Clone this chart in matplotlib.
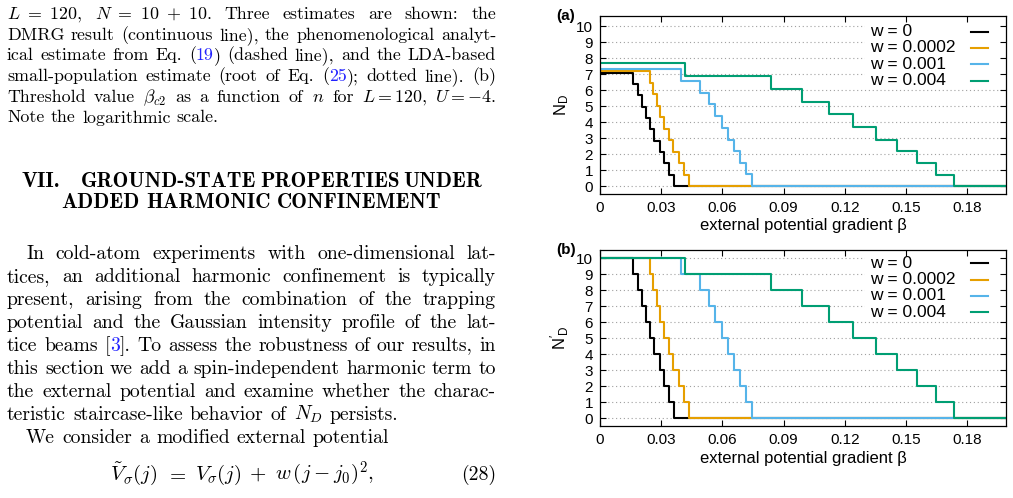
import matplotlib
matplotlib.use('Agg')
import matplotlib.pyplot as plt
from matplotlib.patches import Rectangle

# ---- chart data ----
beta_end = 0.2
w_labels = ['w = 0', 'w = 0.0002', 'w = 0.001', 'w = 0.004']
colors = ['black', '#e69f00', '#56b4e9', '#009e73']

# beta values where each staircase drops one step
drops_w0 = [0.0164, 0.0186, 0.0205, 0.0227, 0.0247, 0.0267, 0.0292, 0.0314, 0.0339, 0.0361]
drops_w1 = [0.0246, 0.0262, 0.0279, 0.0295, 0.0312, 0.0336, 0.0358, 0.0385, 0.0412, 0.0437]
drops_w2 = [0.0398, 0.0492, 0.0532, 0.0564, 0.0600, 0.0629, 0.0659, 0.0687, 0.0715, 0.0747]
drops_w3 = [0.0418, 0.0839, 0.0992, 0.1122, 0.1238, 0.1352, 0.1455, 0.1555, 0.1646, 0.1733]

# panel (a): N_D levels
nd_w0 = [7.10, 6.39, 5.68, 4.97, 4.26, 3.55, 2.84, 2.13, 1.42, 0.71, 0]
nd_w1 = [7.20, 6.48, 5.76, 5.04, 4.32, 3.60, 2.88, 2.16, 1.44, 0.72, 0]
nd_w2 = [7.35, 6.60, 5.85, 5.12, 4.38, 3.64, 2.90, 2.17, 1.44, 0.74, 0]
nd_w3 = [7.69, 6.88, 6.06, 5.26, 4.49, 3.70, 2.90, 2.19, 1.42, 0.69, 0]

# panel (b): N'_D levels (same for every w)
ndp_levels = [10, 9, 8, 7, 6, 5, 4, 3, 2, 1, 0]

xticks = [0, 0.03, 0.06, 0.09, 0.12, 0.15, 0.18]
xtick_labels = ['0', '0.03', '0.06', '0.09', '0.12', '0.15', '0.18']
yticks = list(range(11))

# ---- page text ----
caption = [
    [r'$L\ =\ 120$,', r'$N\ =\ 10\ +\ 10$.', 'Three', 'estimates', 'are', 'shown:', 'the'],
    'DMRG result (continuous line), the phenomenological analyt-'.split(),
    'ical estimate from Eq. (|19|) (dashed line), and the LDA-based'.split(),
    'small-population estimate (root of Eq. (|25|); dotted line). (b)'.split(),
    ['Threshold', 'value', r'$\beta_{c2}$', 'as', 'a', 'function', 'of', '$n$', 'for', '$L=120$,', '$U=-4$.'],
    'Note the logarithmic scale.'.split(),
]
heading = [
    'GROUND-STATE PROPERTIES UNDER'.split(),
    'ADDED HARMONIC CONFINEMENT'.split(),
]
body = [
    'In cold-atom experiments with one-dimensional lat-'.split(),
    'tices, an additional harmonic confinement is typically'.split(),
    'present, arising from the combination of the trapping'.split(),
    'potential and the Gaussian intensity profile of the lat-'.split(),
    'tice beams [|3|]. To assess the robustness of our results, in'.split(),
    'this section we add a spin-independent harmonic term to'.split(),
    'the external potential and examine whether the charac-'.split(),
    'teristic staircase-like behavior of $N_D$ persists.'.split(),
    'We consider a modified external potential'.split(),
]
equation = [r'$\tilde{V}_\sigma(j)$', '$=$', r'$V_\sigma(j)$', '$+$', r'$w\,(j-j_0)^2,$']

W, H, DPI = 1013, 498, 100
plt.rcParams['font.family'] = 'Liberation Sans'
plt.rcParams['mathtext.fontset'] = 'cm'

fig = plt.figure(figsize=(W / DPI, H / DPI), dpi=DPI)
renderer = fig.canvas.get_renderer()
LINK = '#2222ff'


def put_line(y, words, x0, x1, size, justify=True, family='cmr10'):
    objs = []
    for w in words:
        segs = []
        for i, p in enumerate(w.split('|')):
            if not p:
                continue
            t = fig.text(0, 1 - y / H, p, fontsize=size, family=family,
                         color=LINK if i % 2 else 'black', va='baseline', ha='left')
            segs.append(t)
        objs.append(segs)
    widths = [[t.get_window_extent(renderer).width for t in segs] for segs in objs]
    total = sum(sum(ws) for ws in widths)
    if justify and len(objs) > 1:
        gap = (x1 - x0 - total) / (len(objs) - 1)
    else:
        gap = 0.36 * size * DPI / 72
    x = x0
    for segs, ws in zip(objs, widths):
        for t, wi in zip(segs, ws):
            t.set_x(x / W)
            x += wi
        x += gap


for i, words in enumerate(caption):
    put_line(19 + 20.7 * i, words, 7, 496, 12.9, justify=(i < len(caption) - 1))

fig.text(21.7 / W, 1 - 187 / H, 'VII.', family='cmb10', fontsize=15.2, va='baseline', ha='left')
put_line(187, heading[0], 81, 481.7, 15.2, family='cmb10')
put_line(208, heading[1], 61, 441.7, 15.2, family='cmb10')

for i, words in enumerate(body):
    x0 = 26 if i in (0, 8) else 7
    put_line(259 + 23 * i, words, x0, 496, 14.2, justify=(i < 7))

put_line(480, equation, 110, 374, 15)
fig.text(496 / W, 1 - 480 / H, '(28)', family='cmr10', fontsize=14.2, va='baseline', ha='right')


# ---- the two panels ----
def panel(ax, levels, ylabel, ylim, leg_rows, xlab_y):
    for drops, lev, lab, c in zip([drops_w0, drops_w1, drops_w2, drops_w3], levels, w_labels, colors):
        ax.step([0] + drops + [beta_end], lev + [0], where='post', color=c, lw=1.5, zorder=2)
    for y in yticks:
        ax.axhline(y, color='#a0a0a0', lw=0.8, ls=(0, (1, 2.5)), zorder=1)
    # key: white box hiding grid, left-aligned labels, samples on the right
    ax.add_patch(Rectangle((0.653, 0.62), 0.347, 0.38, transform=ax.transAxes,
                           facecolor='white', edgecolor='none', zorder=1.2))
    for ry, lab, c in zip(leg_rows, w_labels, colors):
        ax.text(0.665, ry, lab, transform=ax.transAxes, fontsize=12.5, va='center', ha='left', zorder=3)
        ax.plot([0.915, 0.956], [ry, ry], transform=ax.transAxes, color=c, lw=1.5, zorder=3)
    ax.set_xlim(0, 0.199)
    ax.set_ylim(*ylim)
    ax.set_xticks(xticks)
    ax.set_xticklabels(xtick_labels)
    ax.set_yticks(yticks)
    ax.tick_params(direction='in', length=4, width=0.8, top=True, right=True,
                   labelsize=11, pad=5)
    for s in ax.spines.values():
        s.set_linewidth(0.9)
    ax.set_xlabel('external potential gradient β', fontsize=12)
    ax.xaxis.set_label_coords(0.5, xlab_y)
    ax.set_ylabel(ylabel, fontsize=12)
    ax.yaxis.set_label_coords(-0.072, 0.5)


ax1 = fig.add_axes([0.5923, 0.6098, 0.4008, 0.358])
panel(ax1, [nd_w0, nd_w1, nd_w2, nd_w3], r'$\mathregular{N_D}$', (-0.52, 10.65),
      [0.912, 0.822, 0.729, 0.636], -0.133)
ax2 = fig.add_axes([0.5923, 0.1446, 0.4008, 0.3534])
panel(ax2, [ndp_levels] * 4, r"$\mathregular{N'_D}$", (-0.5, 10.52),
      [0.924, 0.830, 0.739, 0.646], -0.142)

fig.text(556 / W, 1 - 16 / H, '(a)', fontsize=11, fontweight='bold', va='center', ha='left')
fig.text(556 / W, 1 - 250 / H, '(b)', fontsize=11, fontweight='bold', va='center', ha='left')

fig.savefig('out.png', dpi=DPI)
